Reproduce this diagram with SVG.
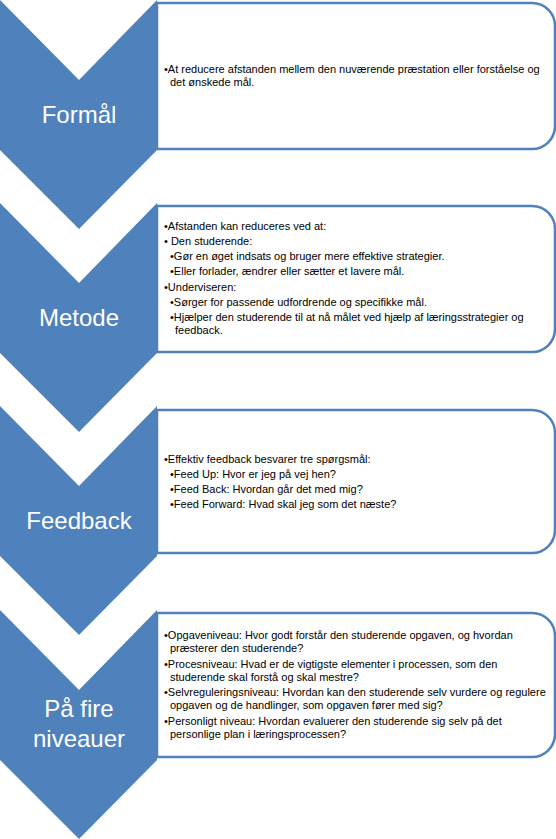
<svg xmlns="http://www.w3.org/2000/svg" width="556" height="839" viewBox="0 0 556 839">
<style>
.chev{fill:#4F81BD}
.box{fill:#FFFFFF;stroke:#4F81BD;stroke-width:2.5}
.lbl{font-family:"Liberation Sans",Arial,sans-serif;font-size:24px;fill:#FFFFFF;text-anchor:middle}
.t{font-family:"Liberation Sans",Arial,sans-serif;font-size:11px;fill:#000000}
</style>
<rect width="556" height="839" fill="#FFFFFF"/>
<g id="connectors"></g>
<g id="node-formaal">
<path class="box" d="M157,3 H532 A23,23 0 0 1 555,26 V126 A23,23 0 0 1 532,149 H157 Z"/>
<polygon class="chev" points="0,0 79,80 157,0 157,150 79,229 0,150"/>
<text class="lbl" x="79" y="123">Formål</text>
<text class="t" x="164" y="73">•At reducere afstanden mellem den nuværende præstation eller forståelse og</text>
<text class="t" x="170" y="86">det ønskede mål.</text>
</g>
<g id="node-metode">
<path class="box" d="M157,206 H532 A23,23 0 0 1 555,229 V329 A23,23 0 0 1 532,352 H157 Z"/>
<polygon class="chev" points="0,203 79,283 157,203 157,353 79,432 0,353"/>
<text class="lbl" x="79" y="326">Metode</text>
<text class="t" x="164" y="230">•Afstanden kan reduceres ved at:</text>
<text class="t" x="164" y="245">• Den studerende:</text>
<text class="t" x="170" y="260">•Gør en øget indsats og bruger mere effektive strategier.</text>
<text class="t" x="170" y="275">•Eller forlader, ændrer eller sætter et lavere mål.</text>
<text class="t" x="164" y="291">•Underviseren:</text>
<text class="t" x="170" y="306">•Sørger for passende udfordrende og specifikke mål.</text>
<text class="t" x="170" y="321">•Hjælper den studerende til at nå målet ved hjælp af læringsstrategier og</text>
<text class="t" x="175" y="334">feedback.</text>
</g>
<g id="node-feedback">
<path class="box" d="M157,410 H532 A23,23 0 0 1 555,433 V530 A23,23 0 0 1 532,553 H157 Z"/>
<polygon class="chev" points="0,406 79,486 157,406 157,556 79,635 0,556"/>
<text class="lbl" x="79" y="529">Feedback</text>
<text class="t" x="164" y="463">•Effektiv feedback besvarer tre spørgsmål:</text>
<text class="t" x="170" y="478">•Feed Up: Hvor er jeg på vej hen?</text>
<text class="t" x="170" y="493">•Feed Back: Hvordan går det med mig?</text>
<text class="t" x="170" y="508">•Feed Forward: Hvad skal jeg som det næste?</text>
</g>
<g id="node-niveauer">
<path class="box" d="M157,613 H532 A23,23 0 0 1 555,636 V734 A23,23 0 0 1 532,757 H157 Z"/>
<polygon class="chev" points="0,610 79,690 157,610 157,760 79,839 0,760"/>
<text class="lbl" x="79" y="717">På fire</text>
<text class="lbl" x="79" y="747">niveauer</text>
<text class="t" x="164" y="639">•Opgaveniveau: Hvor godt forstår den studerende opgaven, og hvordan</text>
<text class="t" x="170" y="652">præsterer den studerende?</text>
<text class="t" x="164" y="668">•Procesniveau: Hvad er de vigtigste elementer i processen, som den</text>
<text class="t" x="170" y="681">studerende skal forstå og skal mestre?</text>
<text class="t" x="164" y="696">•Selvreguleringsniveau: Hvordan kan den studerende selv vurdere og regulere</text>
<text class="t" x="170" y="709">opgaven og de handlinger, som opgaven fører med sig?</text>
<text class="t" x="164" y="725">•Personligt niveau: Hvordan evaluerer den studerende sig selv på det</text>
<text class="t" x="170" y="738">personlige plan i læringsprocessen?</text>
</g>
</svg>
